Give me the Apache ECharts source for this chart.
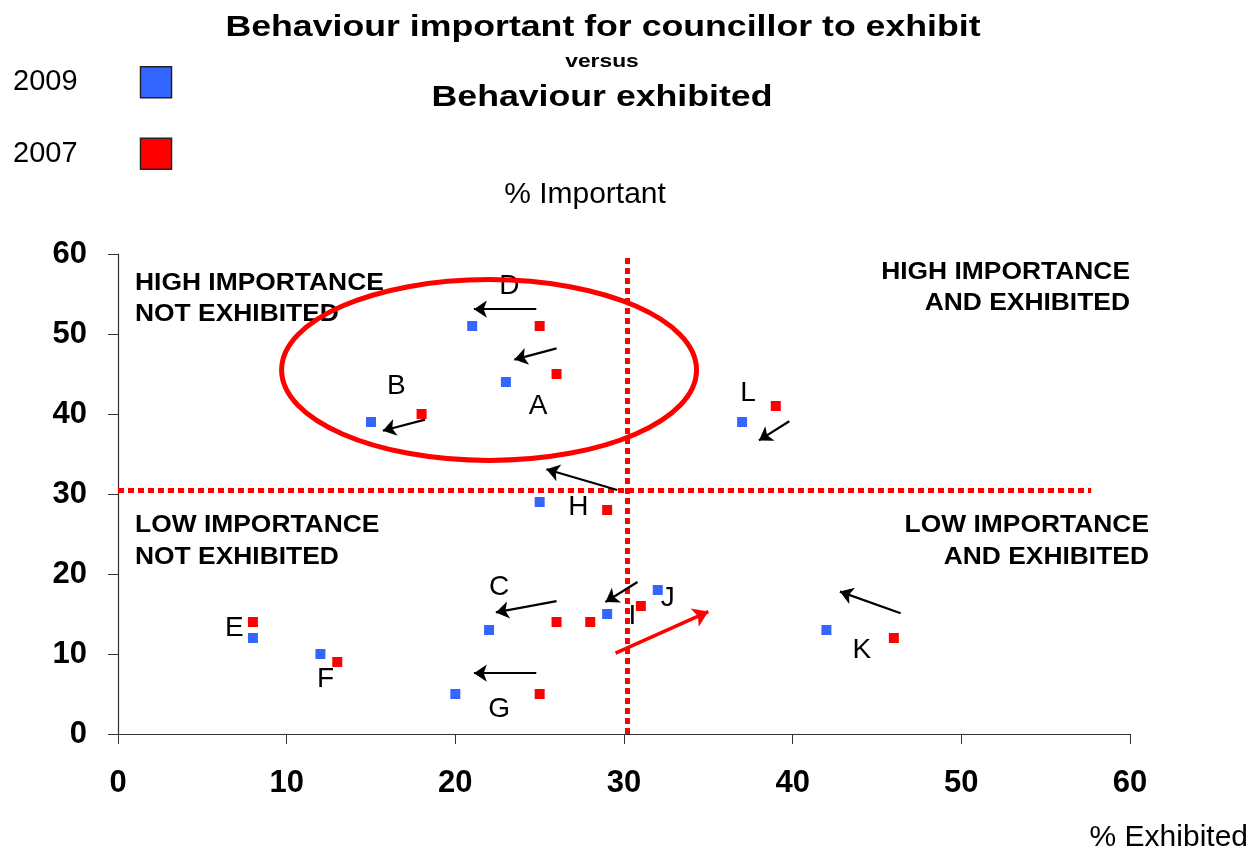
<!DOCTYPE html>
<html>
<head>
<meta charset="utf-8">
<script src="https://cdn.jsdelivr.net/npm/echarts@6/dist/echarts.min.js"></script>
<style>
  html, body { margin: 0; padding: 0; background: #fff; }
  #chart { width: 1260px; height: 855px; }
</style>
</head>
<body>
<div id="chart"></div>
<script>
// behaviours A..L, % exhibited (x) vs % important (y)
const behaviours = ['A', 'B', 'C', 'D', 'E', 'F', 'G', 'H', 'I', 'J', 'K', 'L'];
const exhibited2009 = [23, 15, 22, 21, 8, 12, 20, 25, 29, 32, 42, 37];
const important2009 = [44, 39, 13, 51, 12, 10, 5, 29, 15, 18, 13, 39];
const exhibited2007 = [26, 18, 26, 25, 8, 13, 25, 29, 31, 28, 46, 39];
const important2007 = [45, 40, 14, 51, 14, 9, 5, 28, 16, 14, 12, 41];
const axisTicks = [0, 10, 20, 30, 40, 50, 60];

// annotation anchors (data units)
const letterX = [24.9, 16.5, 22.6, 23.2, 6.9, 12.3, 22.6, 27.3, 30.5, 32.6, 44.1, 37.35];
const letterY = [41.0, 43.5, 18.3, 56.0, 13.2, 6.8, 3.1, 28.3, 14.7, 17.0, 10.5, 42.6];
// black arrows: [fromX, fromY, toX, toY]
const shiftArrows = [
  [26.0, 48.2, 23.5, 46.8],
  [18.2, 39.3, 15.7, 37.9],
  [26.0, 16.6, 22.4, 15.2],
  [24.8, 53.1, 21.1, 53.1],
  [24.8, 7.6, 21.1, 7.6],
  [29.6, 30.5, 25.4, 33.1],
  [30.8, 19.0, 28.9, 16.5],
  [46.4, 15.1, 42.8, 17.8],
  [39.8, 39.1, 38.0, 36.7]
];
const upArrow = [29.5, 10.1, 35.0, 15.3];
const splitX = 30.2;
const splitY = 30.5;
const focus = { cx: 22.0, cy: 45.5, rx: 12.3, ry: 11.3 };

const BLUE = '#3366ff';
const RED = '#ff0000';
const FONT = '"Liberation Sans", Arial, sans-serif';

const myChart = echarts.init(document.getElementById('chart'));

const pts = (xs, ys) => xs.map((x, i) => ({ name: behaviours[i], value: [x, ys[i]] }));

const arrowLines = shiftArrows.map(a => [
  { coord: [a[0], a[1]], symbol: 'none' },
  { coord: [a[2], a[3]], symbol: 'arrow' }
]);

const option = {
  animation: false,
  textStyle: { fontFamily: FONT },
  legend: {
    orient: 'vertical',
    left: 13,
    top: 66,
    padding: 0,
    align: 'right',
    itemWidth: 31,
    itemHeight: 31,
    itemGap: 39,
    icon: 'rect',
    selectedMode: false,
    data: ['2009', '2007'],
    textStyle: { fontSize: 29, color: '#000', padding: [0, 58, 0, 0] },
    itemStyle: { borderColor: '#222', borderWidth: 1.5, opacity: 1 }
  },
  grid: { left: 118, right: 130, top: 254, bottom: 121 },
  xAxis: {
    type: 'value',
    min: 0,
    max: 60,
    interval: 10,
    splitLine: { show: false },
    axisLine: { onZero: false, lineStyle: { color: '#333', width: 1.2 } },
    axisTick: { length: 10, lineStyle: { color: '#333' } },
    axisLabel: {
      margin: 34, fontSize: 31, fontWeight: 'bold', color: '#000',
      formatter: v => (axisTicks.includes(v) ? String(v) : '')
    }
  },
  yAxis: {
    type: 'value',
    min: 0,
    max: 60,
    interval: 10,
    splitLine: { show: false },
    axisLine: { show: true, onZero: false, lineStyle: { color: '#333', width: 1.2 } },
    axisTick: { show: true, length: 10, lineStyle: { color: '#333' } },
    axisLabel: { margin: 31, fontSize: 31, fontWeight: 'bold', color: '#000' }
  },
  series: [
    {
      name: 'quadrants',
      type: 'scatter',
      data: [],
      silent: true,
      clip: false,
      markLine: {
        silent: true,
        symbol: ['none', 'none'],
        label: { show: false },
        lineStyle: { color: RED, width: 5, type: [6, 4], cap: 'butt', opacity: 1 },
        data: [
          [{ coord: [splitX, 0] }, { coord: [splitX, 60] }],
          [{ coord: [0, splitY] }, { coord: [57.7, splitY] }]
        ]
      }
    },
    {
      name: 'arrows',
      type: 'scatter',
      data: [],
      silent: true,
      clip: false,
      markLine: {
        silent: true,
        symbolSize: 13,
        label: { show: false },
        lineStyle: { color: '#000', width: 2.2, type: 'solid', opacity: 1 },
        data: arrowLines
      }
    },
    {
      name: 'redArrow',
      type: 'scatter',
      data: [],
      silent: true,
      clip: false,
      markLine: {
        silent: true,
        symbolSize: 15,
        label: { show: false },
        lineStyle: { color: RED, width: 3.5, type: 'solid', opacity: 1 },
        data: [[
          { coord: [upArrow[0], upArrow[1]], symbol: 'none' },
          { coord: [upArrow[2], upArrow[3]], symbol: 'arrow' }
        ]]
      }
    },
    {
      name: '2009',
      type: 'scatter',
      symbol: 'rect',
      symbolSize: 10,
      itemStyle: { color: BLUE, opacity: 1 },
      data: pts(exhibited2009, important2009)
    },
    {
      name: '2007',
      type: 'scatter',
      symbol: 'rect',
      symbolSize: 10,
      itemStyle: { color: RED, opacity: 1 },
      data: pts(exhibited2007, important2007)
    },
    {
      name: 'letters',
      type: 'scatter',
      symbolSize: 0,
      silent: true,
      itemStyle: { opacity: 1 },
      data: pts(letterX, letterY),
      label: {
        show: true,
        position: 'inside',
        formatter: '{b}',
        fontSize: 28,
        color: '#000',
        fontFamily: FONT
      }
    }
  ]
};

myChart.setOption(option);

function txt(x, y, text, size, weight, align, scaleX) {
  return {
    type: 'text',
    x: x,
    y: y,
    scaleX: scaleX || 1,
    silent: true,
    style: {
      text: text,
      font: weight + ' ' + size + 'px ' + FONT,
      fill: '#000',
      textAlign: align,
      textVerticalAlign: 'middle'
    }
  };
}

const c0 = myChart.convertToPixel({ gridIndex: 0 }, [focus.cx, focus.cy]);
const c1 = myChart.convertToPixel({ gridIndex: 0 }, [focus.cx + focus.rx, focus.cy + focus.ry]);

myChart.setOption({
  graphic: [
    {
      type: 'ellipse',
      silent: true,
      shape: { cx: c0[0], cy: c0[1], rx: c1[0] - c0[0], ry: c0[1] - c1[1] },
      style: { fill: 'none', stroke: RED, lineWidth: 5 },
      z: 10
    },
    txt(603, 28, 'Behaviour important for councillor to exhibit', 29, 'bold', 'center', 1.23),
    txt(602, 62, 'versus', 19, 'bold', 'center', 1.2),
    txt(602, 98, 'Behaviour exhibited', 29, 'bold', 'center', 1.23),
    txt(585, 195, '% Important', 30, 'normal', 'center'),
    txt(1248, 838, '% Exhibited', 30, 'normal', 'right'),
    txt(135, 283, 'HIGH IMPORTANCE', 24, 'bold', 'left', 1.1),
    txt(135, 314, 'NOT EXHIBITED', 24, 'bold', 'left', 1.1),
    txt(1130, 272, 'HIGH IMPORTANCE', 24, 'bold', 'right', 1.1),
    txt(1130, 303, 'AND EXHIBITED', 24, 'bold', 'right', 1.1),
    txt(135, 525, 'LOW IMPORTANCE', 24, 'bold', 'left', 1.1),
    txt(135, 557, 'NOT EXHIBITED', 24, 'bold', 'left', 1.1),
    txt(1149, 525, 'LOW IMPORTANCE', 24, 'bold', 'right', 1.1),
    txt(1149, 557, 'AND EXHIBITED', 24, 'bold', 'right', 1.1)
  ]
});
</script>
</body>
</html>
